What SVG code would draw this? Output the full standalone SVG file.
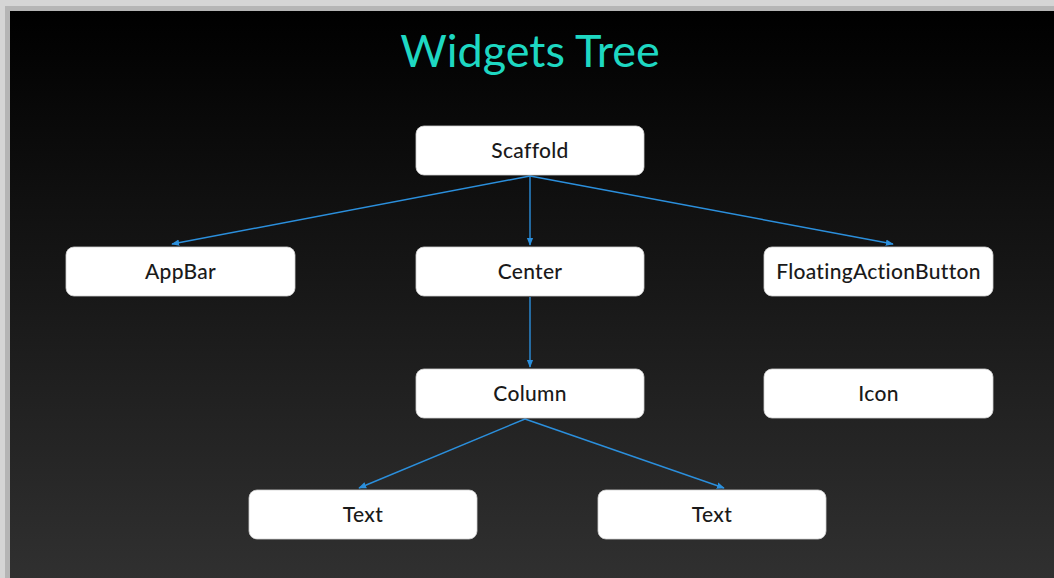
<svg xmlns="http://www.w3.org/2000/svg" width="1054" height="578" viewBox="0 0 1054 578">
<defs>
<linearGradient id="bg" x1="0" y1="0" x2="0" y2="1">
<stop offset="0" stop-color="#000000"/>
<stop offset="1" stop-color="#303030"/>
</linearGradient>
<marker id="ah" viewBox="0 0 10 10" refX="9" refY="5" markerWidth="8" markerHeight="8" markerUnits="userSpaceOnUse" orient="auto">
<path d="M0,1 L10,5 L0,9 Z" fill="#2b8fdc"/>
</marker>
<style>
.box{fill:#ffffff;stroke:#d0d0d0;stroke-width:0.8}
.lbl{font-family:Lato,"Open Sans",sans-serif;font-size:21px;font-weight:500;letter-spacing:0.3px;fill:#1a1a1a;text-anchor:middle}
.edge{stroke:#2b8fdc;stroke-width:1.4;fill:none;marker-end:url(#ah)}
</style>
</defs>
<rect x="0" y="0" width="1054" height="578" fill="#d5d5d5"/>
<rect x="5" y="6" width="1049" height="572" fill="#b5b5b5"/>
<rect x="10" y="11" width="1044" height="567" fill="url(#bg)"/>
<text x="530" y="67" font-family="Lato,'Open Sans',sans-serif" font-size="45" fill="#1ed8c2" text-anchor="middle">Widgets Tree</text>
<g id="connectors">
<line class="edge" x1="530" y1="176" x2="172" y2="244"/>
<line class="edge" x1="530" y1="176" x2="530" y2="245"/>
<line class="edge" x1="530" y1="176" x2="893" y2="244"/>
<line class="edge" x1="530" y1="297" x2="530" y2="367"/>
<line class="edge" x1="525" y1="419" x2="359" y2="488"/>
<line class="edge" x1="525" y1="419" x2="724" y2="488"/>
</g>
<g id="scaffold"><rect class="box" x="416" y="126" width="228" height="49" rx="8"/><text class="lbl" x="530" y="158">Scaffold</text></g>
<g id="appbar"><rect class="box" x="66" y="247" width="229" height="49" rx="8"/><text class="lbl" x="180.5" y="279">AppBar</text></g>
<g id="center"><rect class="box" x="416" y="247" width="228" height="49" rx="8"/><text class="lbl" x="530" y="279">Center</text></g>
<g id="fab"><rect class="box" x="764" y="247" width="229" height="49" rx="8"/><text class="lbl" x="878.5" y="279">FloatingActionButton</text></g>
<g id="column"><rect class="box" x="416" y="369" width="228" height="49" rx="8"/><text class="lbl" x="530" y="401">Column</text></g>
<g id="icon"><rect class="box" x="764" y="369" width="229" height="49" rx="8"/><text class="lbl" x="878.5" y="401">Icon</text></g>
<g id="text1"><rect class="box" x="249" y="490" width="228" height="49" rx="8"/><text class="lbl" x="363" y="522">Text</text></g>
<g id="text2"><rect class="box" x="598" y="490" width="228" height="49" rx="8"/><text class="lbl" x="712" y="522">Text</text></g>
</svg>
